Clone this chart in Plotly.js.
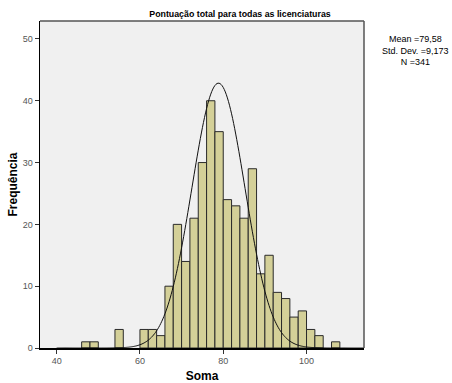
<!DOCTYPE html>
<html>
<head>
<meta charset="utf-8">
<script src="https://cdn.plot.ly/plotly-3.0.1.min.js"></script>
<style>html,body{margin:0;padding:0;background:#fff}#chart{width:452px;height:383px}</style>
</head>
<body>
<div id="chart"></div>
<script>
// Histogram bins (lower edge of each 2-unit bin) and counts
var binStarts = [46, 48, 54, 60, 62, 64, 66, 68, 70, 72, 74, 76, 78, 80, 82, 84, 86, 88, 90, 92, 94, 96, 98, 100, 102, 106];
var counts    = [1, 1, 3, 3, 3, 2, 10, 20, 14, 21, 30, 40, 35, 24, 23, 21, 29, 12, 15, 9, 8, 5, 6, 3, 2, 1];
var binWidth = 2;
// Normal curve as drawn
var curveMean = 78.85;
var curveSd = 6.35;
var nTotal = 341;
var statsText = ["Mean =79,58", "Std. Dev. =9,173", "N =341"];
var xTicks = [40, 60, 80, 100];
var yTicks = [0, 10, 20, 30, 40, 50];

var centers = binStarts.map(function (s) { return s + binWidth / 2; });
var cx = [], cy = [];
for (var x = 40; x <= 114; x += 0.25) {
  cx.push(x);
  var z = (x - curveMean) / curveSd;
  cy.push(nTotal * binWidth / (curveSd * Math.sqrt(2 * Math.PI)) * Math.exp(-0.5 * z * z));
}

var FONT = "Liberation Sans, Arial, sans-serif";
var data = [
  {type: 'bar', x: centers, y: counts, width: binWidth,
   marker: {color: '#D4D098', line: {color: '#2a2a2a', width: 1}},
   hoverinfo: 'skip'},
  {type: 'scatter', mode: 'lines', x: cx, y: cy,
   line: {color: '#111', width: 1, shape: 'spline'}, hoverinfo: 'skip', cliponaxis: true}
];

var layout = {
  width: 452, height: 383,
  margin: {l: 40, r: 88, t: 21, b: 35, pad: 0},
  paper_bgcolor: '#ffffff', plot_bgcolor: '#F0F0F0',
  showlegend: false, bargap: 0,
  font: {family: FONT, size: 9, color: '#555'},
  title: {text: '<b>Pontuação total para todas as licenciaturas</b>',
          x: 240 / 452, xanchor: 'center', xref: 'container',
          y: 1 - 14 / 383, yanchor: 'middle', yref: 'container',
          font: {family: FONT, size: 8.8, color: '#000'}},
  xaxis: {range: [36.0, 113.8], tickvals: xTicks, ticktext: xTicks.map(String),
          showgrid: false, zeroline: false, showline: true, linecolor: '#000', linewidth: 1.5,
          ticks: 'outside', ticklen: 4, tickcolor: '#333', tickwidth: 1,
          tickfont: {family: FONT, size: 9, color: '#555'},
          title: {text: '<b>Soma</b>', standoff: 9, font: {family: FONT, size: 12, color: '#000'}}},
  yaxis: {range: [0, 52.9], tickvals: yTicks, ticktext: yTicks.map(String),
          showgrid: false, zeroline: false, showline: true, linecolor: '#000', linewidth: 1.5,
          ticks: 'outside', ticklen: 4, tickcolor: '#333', tickwidth: 1,
          tickfont: {family: FONT, size: 9, color: '#555'},
          title: {text: '<b>Frequência</b>', standoff: 2, font: {family: FONT, size: 12, color: '#000'}}},
  shapes: [
    {type: 'line', xref: 'paper', yref: 'paper', x0: 0, x1: 1, y0: 1, y1: 1, line: {color: '#555', width: 1.5}},
    {type: 'line', xref: 'paper', yref: 'paper', x0: 1, x1: 1, y0: 0, y1: 1, line: {color: '#555', width: 1.5}}
  ],
  annotations: [
    {xref: 'paper', yref: 'paper', x: (415 - 40) / 324, y: (347.5 - 50) / 327,
     xanchor: 'center', yanchor: 'middle', align: 'center', showarrow: false,
     text: statsText.join('<br>'), font: {family: FONT, size: 9, color: '#000'}}
  ]
};

Plotly.newPlot('chart', data, layout, {staticPlot: true, displayModeBar: false});
</script>
</body>
</html>
